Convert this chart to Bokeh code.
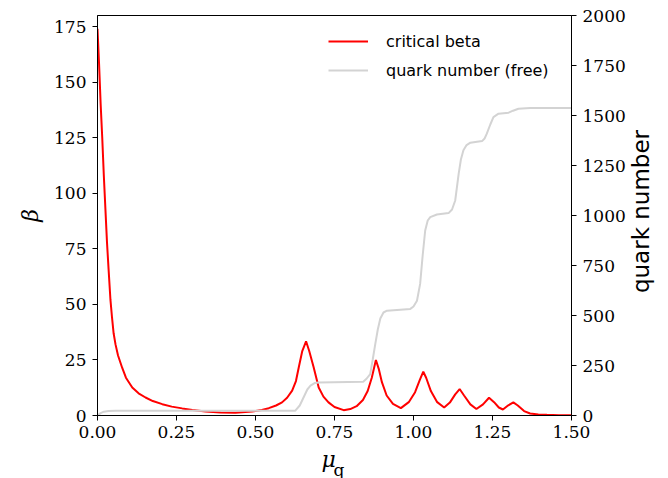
import math
from bokeh.plotting import figure
from bokeh.models import (Range1d, LinearAxis, Label, Legend, LegendItem,
                          FixedTicker, NumeralTickFormatter)
from bokeh.embed import file_html
from bokeh.resources import INLINE

# ---- data ----
mu_beta = [0.000, 0.005, 0.010, 0.015, 0.020, 0.025, 0.030, 0.035, 0.041, 0.046,
           0.051, 0.057, 0.065, 0.078, 0.090, 0.110, 0.130, 0.152, 0.175, 0.205,
           0.235, 0.268, 0.300, 0.342, 0.390, 0.436, 0.489, 0.520, 0.542, 0.565,
           0.584, 0.600, 0.616, 0.628, 0.637, 0.648, 0.660, 0.670, 0.684, 0.700,
           0.715, 0.731, 0.750, 0.779, 0.800, 0.820, 0.840, 0.855, 0.868, 0.881,
           0.890, 0.900, 0.915, 0.935, 0.960, 0.985, 1.005, 1.020, 1.031, 1.040,
           1.055, 1.075, 1.097, 1.115, 1.132, 1.146, 1.160, 1.180, 1.199, 1.220,
           1.239, 1.255, 1.270, 1.283, 1.300, 1.316, 1.330, 1.350, 1.369, 1.395,
           1.422, 1.460, 1.500]
beta = [174, 158, 140, 125, 108, 93, 78, 66, 52, 44,
        37, 32, 27, 21.5, 17, 12.6, 10, 8.1, 6.5, 5.1,
        4.0, 3.2, 2.5, 1.8, 1.4, 1.2, 1.8, 2.5, 3.3, 4.5,
        5.9, 8.0, 11.2, 15.5, 21.7, 29, 33.4, 29, 21.7, 12.6,
        8.5, 5.9, 3.8, 2.4, 2.9, 4.2, 7.0, 11, 17, 25.0,
        21, 15, 9, 5.2, 3.3, 6.0, 10.5, 16, 19.7, 17,
        11, 6.0, 3.6, 5.8, 9.5, 11.9, 9.0, 5.0, 2.9, 5.0,
        8.0, 6.0, 3.6, 2.7, 4.6, 5.9, 4.5, 2.0, 0.9, 0.5,
        0.3, 0.15, 0.1]

mu_quark = [0.000, 0.010, 0.020, 0.035, 0.057, 0.300, 0.626, 0.640, 0.652, 0.664,
            0.674, 0.687, 0.700, 0.841, 0.852, 0.863, 0.871, 0.879, 0.887, 0.895,
            0.905, 0.916, 0.990, 1.000, 1.011, 1.021, 1.029, 1.037, 1.045, 1.053,
            1.074, 1.111, 1.122, 1.132, 1.143, 1.150, 1.158, 1.168, 1.180, 1.217,
            1.225, 1.232, 1.243, 1.253, 1.269, 1.301, 1.315, 1.332, 1.369, 1.500]
quark_number = [0, 12, 19, 23, 24, 24, 24, 50, 90, 130,
                149, 162, 165, 169, 185, 207, 280, 357, 430, 485,
                515, 524, 533, 545, 574, 658, 800, 925, 975, 992,
                1005, 1012, 1030, 1075, 1209, 1280, 1326, 1352, 1364, 1372,
                1385, 1409, 1455, 1492, 1509, 1514, 1524, 1534, 1537, 1538]

x_ticks = [0.0, 0.25, 0.5, 0.75, 1.0, 1.25, 1.5]
beta_ticks = [0, 25, 50, 75, 100, 125, 150, 175]
quark_ticks = [0, 250, 500, 750, 1000, 1250, 1500, 1750, 2000]

serif = "DejaVu Serif"
sans = "DejaVu Sans"

p = figure(width=668, height=478, output_backend="svg", toolbar_location=None,
           x_range=Range1d(0, 1.5), y_range=Range1d(0, 180),
           min_border_left=97, min_border_right=97, min_border_top=15,
           min_border_bottom=63)
p.extra_y_ranges = {"n": Range1d(0, 2000)}
p.grid.visible = False
p.outline_line_color = "black"
p.outline_line_alpha = 1.0
p.outline_line_width = 1
p.background_fill_color = "white"
p.border_fill_color = "white"

def style_axis(ax, ticks):
    ax.ticker = FixedTicker(ticks=ticks)
    ax.axis_line_color = "black"
    ax.major_tick_line_color = "black"
    ax.major_tick_out = 5
    ax.major_tick_in = 0
    ax.minor_tick_line_color = None
    ax.major_label_text_font = serif
    ax.major_label_text_font_size = "17px"
    ax.major_label_text_color = "black"

xa = p.xaxis[0]
style_axis(xa, x_ticks)
xa.formatter = NumeralTickFormatter(format="0.00")
xa.major_label_standoff = 5

ya = p.yaxis[0]
style_axis(ya, beta_ticks)
ya.major_label_standoff = 6
ya.axis_label = "β"
ya.axis_label_text_font = serif
ya.axis_label_text_font_style = "italic"
ya.axis_label_text_font_size = "22px"
ya.axis_label_text_color = "black"
ya.axis_label_standoff = 8

ra = LinearAxis(y_range_name="n")
style_axis(ra, quark_ticks)
ra.major_label_standoff = 6
p.add_layout(ra, "right")

r_beta = p.line(mu_beta, beta, line_color="#ff0000", line_width=2)
r_quark = p.line(mu_quark, quark_number, line_color="#d3d3d3", line_width=2,
                 y_range_name="n")

legend = Legend(items=[LegendItem(label="critical beta", renderers=[r_beta]),
                       LegendItem(label="quark number (free)", renderers=[r_quark])],
                location=(231, 335), margin=0, padding=0, spacing=9,
                glyph_width=40, glyph_height=20, label_height=20,
                label_standoff=18, label_text_font=sans,
                label_text_font_size="16px", label_text_color="black",
                border_line_alpha=0, background_fill_alpha=0)
p.add_layout(legend)

# axis titles placed in the side panels (real text)
p.add_layout(Label(x=224, y=6, x_units="screen", y_units="screen", text="μ",
                   text_font=serif, text_font_style="italic",
                   text_font_size="22px", text_color="black",
                   text_align="left", text_baseline="alphabetic"), "below")
p.add_layout(Label(x=329, y=-54, x_units="screen", y_units="screen", text="q",
                   text_font=serif, text_font_size="17px", text_color="black",
                   text_align="left", text_baseline="alphabetic"), "left")
p.add_layout(Label(x=12, y=204, x_units="screen", y_units="screen",
                   text="quark number", angle=math.pi / 2,
                   text_font=sans, text_font_size="23px", text_color="black",
                   text_align="center", text_baseline="middle"), "right")

open("out.html", "w").write(file_html(p, INLINE))
